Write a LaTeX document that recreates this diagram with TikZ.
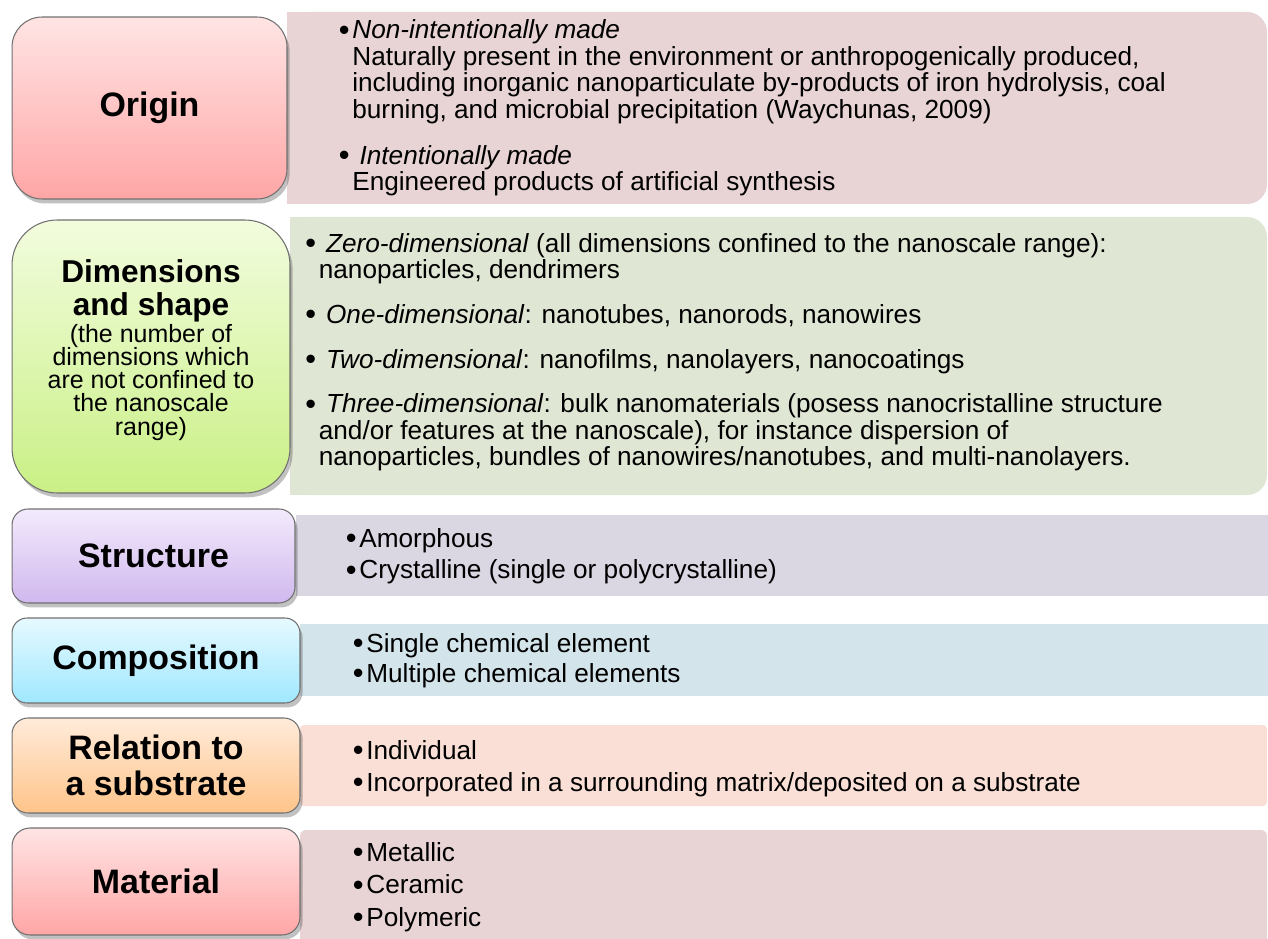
\documentclass[tikz,border=0pt]{standalone}
\usepackage{fontspec}
\setmainfont{Liberation Sans}
\usetikzlibrary{shadows}
\definecolor{cEdge}{RGB}{112,112,112}
\definecolor{cRoseTop}{RGB}{255,228,228}
\definecolor{cRoseBot}{RGB}{255,166,166}
\definecolor{cLimeTop}{RGB}{242,252,222}
\definecolor{cLimeBot}{RGB}{202,240,134}
\definecolor{cLilacTop}{RGB}{243,234,252}
\definecolor{cLilacBot}{RGB}{208,184,238}
\definecolor{cSkyTop}{RGB}{230,249,255}
\definecolor{cSkyBot}{RGB}{160,232,255}
\definecolor{cPeachTop}{RGB}{255,235,218}
\definecolor{cPeachBot}{RGB}{255,196,138}
\definecolor{cRoseBg}{RGB}{232,212,212}
\definecolor{cLimeBg}{RGB}{224,230,212}
\definecolor{cLilacBg}{RGB}{218,214,226}
\definecolor{cSkyBg}{RGB}{211,228,234}
\definecolor{cPeachBg}{RGB}{250,223,214}
\newcommand{\bul}{\makebox[0.27cm][l]{\raisebox{-0.8pt}{\fontsize{17.5}{17.5}\selectfont\textbullet}}}
\newcommand{\bulgap}{\hspace*{0.27cm}}
\tikzset{
	catbox/.style={rectangle, draw=cEdge, line width=0.6pt, align=center, text centered, inner sep=2pt, drop shadow={shadow xshift=1.5pt, shadow yshift=-2.5pt, opacity=0.3, fill=black!80}, font=\fontsize{19.3}{20.5}\selectfont\bfseries},
	itemlist/.style={anchor=west, align=left, inner sep=0pt, font=\fontsize{14.9}{17.9}\selectfont},
}
\begin{document}
\begin{tikzpicture}[x=0.02cm, y=-0.02cm]
	\useasboundingbox (0,0) rectangle (1268,939);
	% panels on the right
	\fill[cRoseBg, rounded corners=0.4cm] (287,12) rectangle (1267,204);
	\fill[cRoseBg] (287,12) rectangle (700,204);
	\fill[cLimeBg, rounded corners=0.4cm] (290,217) rectangle (1267,495);
	\fill[cLimeBg] (290,217) rectangle (700,495);
	\fill[cLilacBg] (296,515) rectangle (1268,596);
	\fill[cSkyBg] (300,624) rectangle (1268,696);
	\fill[cPeachBg, rounded corners=0.08cm] (300,725) rectangle (1267,806);
	\fill[cRoseBg, rounded corners=0.12cm] (300,830) rectangle (1267,960);
	% category boxes
	\node[catbox, minimum width=5.5cm, minimum height=3.64cm, rounded corners=0.6cm, top color=cRoseTop, bottom color=cRoseBot] (origin) at (149.5,108) {Origin};
	\node[catbox, minimum width=5.56cm, minimum height=5.46cm, rounded corners=0.9cm, top color=cLimeTop, bottom color=cLimeBot] (dimensions) at (151,356.5) {};
	\node[align=center, inner sep=0pt, font={\fontsize{14.2}{13.2}\selectfont\lineskiplimit=-10pt}] (dimtitle) at (151,350) {\textbf{\fontsize{18}{19}\selectfont Dimensions}\\[5.5pt] \textbf{\fontsize{18}{19}\selectfont and shape}\\[2.1pt] (the number of\\ dimensions which\\ are not confined to\\ the nanoscale\\ range)};
	\node[catbox, minimum width=5.66cm, minimum height=1.88cm, rounded corners=0.32cm, top color=cLilacTop, bottom color=cLilacBot] (structure) at (153.5,556) {Structure};
	\node[catbox, minimum width=5.76cm, minimum height=1.7cm, rounded corners=0.3cm, top color=cSkyTop, bottom color=cSkyBot] (composition) at (156,660.5) {Composition};
	\node[catbox, minimum width=5.76cm, minimum height=1.9cm, rounded corners=0.32cm, top color=cPeachTop, bottom color=cPeachBot] (relation) at (156,765.5) {Relation to\\a substrate};
	\node[catbox, minimum width=5.76cm, minimum height=2.14cm, rounded corners=0.36cm, top color=cRoseTop, bottom color=cRoseBot] (material) at (156,881.5) {Material};
	% item lists
	\node[itemlist, font=\fontsize{14.9}{15}\selectfont] (origintext) at (338.5,108) {\bul\textit{Non-intentionally made}\\ \bulgap Naturally present in the environment or anthropogenically produced,\\ \bulgap including inorganic nanoparticulate by-products of iron hydrolysis, coal\\ \bulgap burning, and microbial precipitation (Waychunas, 2009)\\[11.3pt] \bul\ \textit{Intentionally made}\\ \bulgap Engineered products of artificial synthesis};
	\node[itemlist, font=\fontsize{14.9}{14.9}\selectfont] (dimtext) at (305,352) {\bul\ \textit{Zero-dimensional} (all dimensions confined to the nanoscale range):\\ \bulgap nanoparticles, dendrimers\\[10.6pt] \bul\ \textit{One-dimensional}: nanotubes, nanorods, nanowires\\[10.6pt] \bul\ \textit{Two-dimensional}: nanofilms, nanolayers, nanocoatings\\[10.6pt] \bul\ \textit{Three-dimensional}: bulk nanomaterials (posess nanocristalline structure\\ \bulgap and/or features at the nanoscale), for instance dispersion of\\ \bulgap nanoparticles, bundles of nanowires/nanotubes, and multi-nanolayers.};
	\node[itemlist] (structtext) at (345.5,556.4) {\bul Amorphous\\ \bul Crystalline (single or polycrystalline)};
	\node[itemlist, font=\fontsize{14.9}{17}\selectfont] (comptext) at (352.5,660.4) {\bul Single chemical element\\ \bul Multiple chemical elements};
	\node[itemlist, font=\fontsize{14.9}{18.1}\selectfont] (reltext) at (352.5,768.4) {\bul Individual\\ \bul Incorporated in a surrounding matrix/deposited on a substrate};
	\node[itemlist, font=\fontsize{14.9}{18.4}\selectfont] (mattext) at (352.5,887) {\bul Metallic\\ \bul Ceramic\\ \bul Polymeric};
\end{tikzpicture}
\end{document}
